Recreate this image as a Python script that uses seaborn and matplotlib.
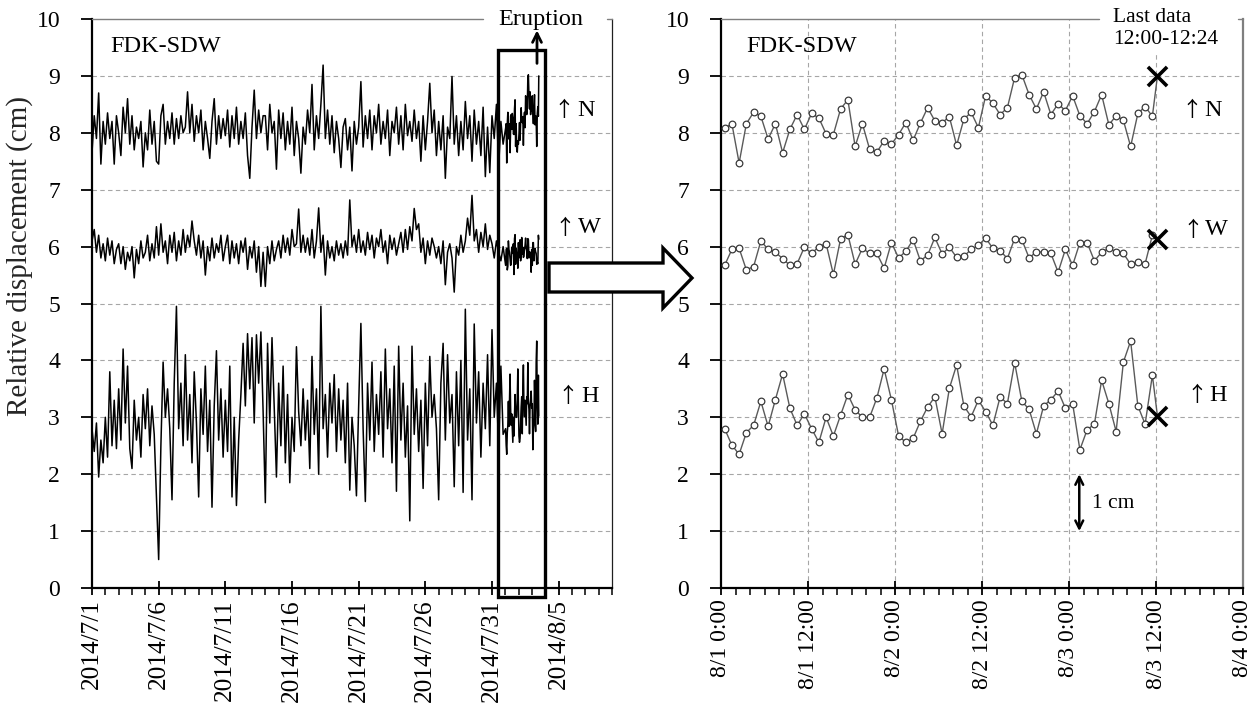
import numpy as np
import pandas as pd
import matplotlib
matplotlib.use("Agg")
import matplotlib.pyplot as plt
import matplotlib.dates as mdates
from matplotlib.ticker import FuncFormatter, FixedLocator
from matplotlib.patches import Polygon, Rectangle
import seaborn as sns

# ---------------- data (cm) ----------------
# left panel: 4-hourly values 2014/7/1 00:00 ... 2014/7/31 20:00 (6 per day)
N_daily4h = [
    7.65, 8.3, 7.9, 8.7, 7.45, 8.2,   7.8, 8.35, 7.9, 8.2, 7.45, 8.3,
    8.0, 7.6, 8.45, 8.0, 8.6, 7.8,    8.3, 7.7, 8.1, 7.9, 8.2, 7.4,
    8.0, 7.7, 8.4, 7.8, 8.2, 7.5,     7.45, 8.3, 8.5, 7.8, 8.2, 7.9,
    8.35, 7.8, 8.25, 7.9, 8.3, 8.0,   8.1, 8.72, 8.0, 8.5, 7.85, 8.3,
    8.0, 8.4, 7.7, 8.2, 7.9, 7.55,    8.2, 8.6, 7.8, 8.3, 7.9, 8.25,
    7.95, 8.4, 7.75, 8.3, 7.9, 8.45,  7.8, 8.2, 7.9, 8.35, 7.6, 7.2,
    8.1, 8.75, 7.9, 8.4, 8.0, 8.3,    8.3, 7.7, 8.5, 8.0, 8.2, 7.36,
    8.4, 7.9, 8.35, 7.7, 8.2, 7.8,    8.45, 7.6, 8.2, 7.9, 7.29, 8.1,
    7.8, 8.4, 8.0, 8.85, 7.7, 8.3,    7.9, 8.5, 9.19, 7.9, 8.4, 7.8,
    8.3, 7.65, 8.2, 7.9, 7.39, 8.1,   8.25, 7.7, 8.1, 7.33, 8.2, 7.8,
    8.1, 8.9, 7.75, 8.3, 7.9, 8.4,    7.7, 8.3, 8.0, 8.5, 7.8, 8.2,
    7.9, 8.4, 7.6, 8.2, 8.0, 8.45,    7.8, 8.3, 7.7, 8.5, 7.95, 8.2,
    7.85, 8.4, 7.9, 8.2, 7.5, 8.3,    7.7, 8.2, 8.87, 8.0, 8.4, 7.6,
    8.2, 7.7, 8.3, 7.2, 8.1, 7.9,     8.99, 7.8, 8.3, 7.6, 8.2, 7.7,
    8.55, 7.9, 8.3, 7.5, 8.4, 7.8,    8.2, 7.6, 8.45, 7.23, 8.1, 7.3,
    8.3, 7.9, 8.5, 7.4, 8.2, 7.8,
]
W_daily4h = [
    6.1, 6.3, 5.9, 6.2, 5.8, 6.05,    5.75, 6.15, 5.85, 6.1, 5.7, 5.95,
    6.05, 5.7, 6.0, 5.6, 5.9, 5.75,   6.0, 5.45, 5.95, 5.7, 6.1, 5.8,
    5.9, 6.2, 5.75, 6.05, 5.8, 6.35,  5.85, 6.4, 5.9, 6.1, 5.7, 6.2,
    5.9, 6.25, 5.75, 6.1, 5.85, 6.3,  5.9, 6.2, 6.0, 6.45, 6.1, 5.85,
    6.2, 5.8, 6.1, 5.5, 6.0, 5.75,    6.15, 5.8, 6.05, 5.9, 6.2, 5.75,
    6.0, 6.2, 5.7, 6.1, 5.8, 6.05,    5.7, 6.1, 5.9, 6.15, 5.6, 6.0,
    5.8, 6.1, 5.55, 6.0, 5.3, 5.9,    5.3, 6.0, 5.7, 6.1, 5.75, 5.95,
    6.1, 5.8, 6.2, 5.9, 6.15, 5.85,   6.3, 6.0, 6.05, 6.66, 5.9, 6.2,
    5.9, 6.15, 5.85, 6.3, 5.8, 6.1,   6.68, 5.9, 6.2, 5.5, 6.1, 5.8,
    6.0, 5.75, 6.1, 5.85, 6.05, 5.8,  6.1, 5.85, 6.82, 6.0, 6.2, 5.9,
    6.3, 5.9, 6.1, 5.85, 6.25, 5.95,  6.2, 5.8, 6.15, 6.0, 6.3, 5.9,
    6.1, 5.7, 6.2, 5.95, 6.15, 5.85,  6.05, 6.25, 5.9, 6.3, 5.95, 6.35,
    6.1, 6.67, 6.3, 6.4, 5.9, 6.15,   5.7, 6.1, 5.85, 6.15, 6.0, 5.8,
    6.0, 5.7, 6.1, 5.33, 5.9, 6.05,   5.8, 5.2, 6.0, 5.85, 6.2, 5.9,
    6.1, 6.5, 6.2, 6.9, 6.1, 6.3,     5.9, 6.25, 6.0, 6.4, 5.95, 6.2,
    6.05, 5.8, 6.1, 5.9, 5.75, 6.0,
]
H_daily4h = [
    2.8, 2.4, 2.9, 1.95, 2.6, 2.2,    3.0, 2.3, 3.8, 2.5, 3.3, 2.45,
    3.5, 2.6, 4.2, 2.9, 3.9, 2.45,    2.1, 3.3, 2.6, 3.0, 2.3, 3.4,
    2.8, 3.5, 2.5, 3.2, 2.7, 1.6,     0.5, 2.5, 3.97, 3.0, 3.5, 2.8,
    1.55, 3.6, 4.95, 2.8, 3.6, 2.5,   4.1, 2.6, 3.4, 2.2, 3.8, 2.9,
    1.6, 3.5, 2.7, 3.9, 2.4, 3.3,     1.42, 3.2, 4.17, 2.6, 3.5, 2.3,
    3.3, 2.4, 3.9, 1.6, 3.0, 1.45,    2.6, 3.4, 4.3, 3.2, 4.47, 3.5,
    4.4, 2.9, 4.45, 3.6, 4.5, 3.1,    1.5, 4.3, 2.9, 4.4, 3.2, 1.95,
    3.6, 2.5, 3.9, 2.2, 3.4, 1.85,    3.0, 2.4, 4.24, 3.1, 2.5, 3.5,
    2.6, 3.3, 2.1, 4.07, 2.7, 3.5,    2.0, 4.95, 2.8, 3.4, 2.3, 3.6,
    2.9, 3.75, 2.4, 3.5, 2.6, 3.3,    2.2, 3.6, 1.72, 3.0, 2.5, 1.62,
    3.2, 4.65, 2.8, 1.52, 3.6, 2.6,   3.97, 2.4, 3.4, 2.7, 3.8, 2.3,
    4.2, 2.8, 3.5, 2.2, 3.9, 1.7,     4.25, 2.6, 3.6, 2.3, 3.2, 1.18,
    4.25, 2.7, 3.5, 2.4, 3.3, 1.75,   3.6, 2.5, 4.07, 3.0, 3.4, 2.8,
    1.55, 3.6, 4.3, 2.6, 4.1, 2.9,    3.4, 1.78, 3.8, 2.5, 4.0, 1.68,
    4.9, 2.6, 3.5, 1.55, 4.64, 2.9,   3.8, 2.3, 3.6, 2.8, 4.1, 2.5,
    4.54, 3.0, 3.6, 2.4, 3.9, 2.7,
]

# hourly values 2014/8/1 00:30 ... 2014/8/3 11:30 (both panels)
N_hourly = [8.08, 8.16, 7.47, 8.16, 8.36, 8.29, 7.89, 8.16, 7.65, 8.06, 8.32, 8.06,
            8.34, 8.26, 7.98, 7.97, 8.42, 8.58, 7.76, 8.16, 7.71, 7.66, 7.86, 7.80,
            7.97, 8.18, 7.87, 8.17, 8.44, 8.21, 8.18, 8.28, 7.78, 8.24, 8.36, 8.09,
            8.65, 8.52, 8.32, 8.44, 8.97, 9.02, 8.67, 8.42, 8.72, 8.32, 8.51, 8.39,
            8.65, 8.30, 8.16, 8.37, 8.67, 8.14, 8.30, 8.22, 7.76, 8.34, 8.46, 8.29]
W_hourly = [5.67, 5.95, 5.97, 5.59, 5.65, 6.10, 5.95, 5.90, 5.79, 5.67, 5.70, 5.99,
            5.88, 6.00, 6.05, 5.51, 6.14, 6.21, 5.69, 5.97, 5.88, 5.88, 5.62, 6.07,
            5.80, 5.92, 6.12, 5.75, 5.85, 6.16, 5.87, 5.99, 5.81, 5.83, 5.95, 6.02,
            6.15, 5.97, 5.93, 5.79, 6.14, 6.12, 5.80, 5.91, 5.90, 5.88, 5.55, 5.95,
            5.67, 6.07, 6.07, 5.75, 5.90, 5.97, 5.91, 5.88, 5.69, 5.73, 5.70, 6.20]
H_hourly = [2.80, 2.51, 2.35, 2.73, 2.86, 3.28, 2.84, 3.31, 3.76, 3.16, 2.86, 3.06,
            2.80, 2.56, 3.00, 2.67, 3.04, 3.40, 3.13, 3.00, 3.00, 3.34, 3.85, 3.31,
            2.67, 2.56, 2.63, 2.93, 3.18, 3.36, 2.71, 3.51, 3.92, 3.20, 3.01, 3.30,
            3.10, 2.86, 3.36, 3.24, 3.96, 3.28, 3.14, 2.71, 3.20, 3.31, 3.46, 3.16,
            3.24, 2.43, 2.78, 2.88, 3.65, 3.24, 2.75, 3.97, 4.34, 3.20, 2.88, 3.74]

# last data 12:00-12:24 on 8/3
last_time = "2014-08-03 12:12"
N_last, W_last, H_last = 9.00, 6.13, 3.02

components = ["N", "W", "H"]
label_y_left = {"N": 8.40, "W": 6.33, "H": 3.37}
label_y_right = {"N": 8.40, "W": 6.30, "H": 3.39}

# ---------------- build tables ----------------
t_4h = pd.date_range("2014-07-01 00:00", periods=len(N_daily4h), freq="4h")
t_1h = pd.date_range("2014-08-01 00:30", periods=len(N_hourly), freq="h")
t_end = pd.DatetimeIndex([pd.Timestamp(last_time)])
series4h = {"N": N_daily4h, "W": W_daily4h, "H": H_daily4h}
series1h = {"N": N_hourly, "W": W_hourly, "H": H_hourly}
series_last = {"N": N_last, "W": W_last, "H": H_last}

rows_L, rows_R = [], []
for c in components:
    tl = t_4h.append(t_1h).append(t_end)
    vl = list(series4h[c]) + list(series1h[c]) + [series_last[c]]
    rows_L.append(pd.DataFrame({"time": tl, "value": vl, "comp": c}))
    tr = t_1h.append(t_end)
    vr = list(series1h[c]) + [series_last[c]]
    rows_R.append(pd.DataFrame({"time": tr, "value": vr, "comp": c}))
dfL = pd.concat(rows_L, ignore_index=True)
dfR = pd.concat(rows_R, ignore_index=True)
dfX = pd.DataFrame({"time": [pd.Timestamp(last_time)] * 3,
                    "value": [series_last[c] for c in components]})

# ---------------- style ----------------
sns.set_theme(style="ticks")
plt.rcParams["font.family"] = ["Liberation Serif", "DejaVu Serif"]
plt.rcParams["axes.unicode_minus"] = False

FW, FH = 1259, 707
fig = plt.figure(figsize=(FW / 100, FH / 100), dpi=100)


def fx(px):
    return px / FW


def fy(py):
    return 1 - py / FH


axL = fig.add_axes([fx(92), fy(588), fx(612) - fx(92), fy(19) - fy(588)])
axR = fig.add_axes([fx(721), fy(588), fx(1243) - fx(721), fy(19) - fy(588)])

TICK_FS = 17
TXT_FS = 17.5
GRID = dict(color="#a6a6a6", lw=0.8, ls=(0, (4, 3)), zorder=0.5)

# ---------------- left panel ----------------
sns.lineplot(data=dfL, x="time", y="value", hue="comp", units="comp",
             palette={c: "black" for c in components}, estimator=None,
             sort=False, legend=False, lw=1.1, ax=axL)

xl0, xl1 = pd.Timestamp("2014-07-01"), pd.Timestamp("2014-08-09")
axL.set_xlim(xl0, xl1)
axL.set_ylim(0, 10)
axL.xaxis.set_major_locator(FixedLocator(mdates.date2num(pd.date_range(xl0, xl1, freq="5D"))))
axL.xaxis.set_minor_locator(FixedLocator(mdates.date2num(pd.date_range(xl0, xl1, freq="D"))))


def fmt_left(v, pos):
    d = mdates.num2date(v)
    return f"{d.year}/{d.month}/{d.day}"


axL.xaxis.set_major_formatter(FuncFormatter(fmt_left))
axL.set_yticks(range(0, 11))
for yv in range(1, 10):
    axL.axhline(yv, **GRID)
axL.set_xlabel("")
axL.set_ylabel("Relative displacement (cm)", fontsize=21)
axL.yaxis.set_label_coords(-0.1135, 0.5835)

# ---------------- right panel ----------------
for c in components:
    sub = dfR[dfR["comp"] == c]
    sns.lineplot(data=sub, x="time", y="value", estimator=None, sort=False,
                 color="#5a5a5a", lw=1.0, marker="o", markersize=4.8,
                 markerfacecolor="white", markeredgecolor="#3a3a3a",
                 markeredgewidth=0.9, markevery=list(range(len(sub) - 1)),
                 legend=False, ax=axR, zorder=3)
sns.scatterplot(data=dfX, x="time", y="value", marker="x", s=190, color="black",
                linewidth=2.6, legend=False, ax=axR, zorder=6)

xr0, xr1 = pd.Timestamp("2014-08-01 00:00"), pd.Timestamp("2014-08-04 00:00")
axR.set_xlim(xr0, xr1)
axR.set_ylim(0, 10)
maj_r = mdates.date2num(pd.date_range(xr0, xr1, freq="12h"))
axR.xaxis.set_major_locator(FixedLocator(maj_r))
axR.xaxis.set_minor_locator(FixedLocator(mdates.date2num(pd.date_range(xr0, xr1, freq="2h"))))


def fmt_right(v, pos):
    d = mdates.num2date(v)
    return f"{d.month}/{d.day} {d.hour}:{d.minute:02d}"


axR.xaxis.set_major_formatter(FuncFormatter(fmt_right))
axR.set_yticks(range(0, 11))
for yv in range(1, 10):
    axR.axhline(yv, **GRID)
for xv in maj_r[1:-1]:
    axR.axvline(xv, **GRID)
axR.set_xlabel("")
axR.set_ylabel("")

# ---------------- common axis styling ----------------
for ax, xfs in ((axL, 18.3), (axR, TICK_FS)):
    ax.tick_params(axis="x", which="major", direction="inout", length=10, width=1.3,
                   labelsize=xfs, pad=3, labelrotation=90, color="black")
    ax.tick_params(axis="x", which="minor", direction="out", length=5, width=1.1,
                   color="black")
    ax.tick_params(axis="y", which="major", direction="out", length=8, width=1.3,
                   labelsize=TICK_FS, pad=15, color="black")
    for lab in ax.get_xticklabels() + ax.get_yticklabels():
        lab.set_color("black")
    ax.spines["left"].set_color("black")
    ax.spines["left"].set_linewidth(1.6)
    ax.spines["bottom"].set_color("black")
    ax.spines["bottom"].set_linewidth(1.6)
    ax.spines["top"].set_visible(False)
    ax.set_facecolor("white")

axL.spines["right"].set_color("#202020")
axL.spines["right"].set_linewidth(0.9)
axR.spines["right"].set_color("#7f7f7f")
axR.spines["right"].set_linewidth(1.6)

# broken top borders (gaps behind the captions)
for ax, segs in ((axL, [(0, 0.752), (0.990, 1.0)]), (axR, [(0, 0.724), (0.990, 1.0)])):
    for a, b in segs:
        ax.plot([a, b], [1, 1], color="#7f7f7f", lw=1.0, transform=ax.transAxes,
                clip_on=False, zorder=4)

# ---------------- annotations ----------------
for ax, xf in ((axL, 0.035), (axR, 0.049)):
    ax.text(xf, 0.9525, "FDK-SDW", transform=ax.transAxes, fontsize=TXT_FS,
            ha="left", va="center", color="black")

# direction labels: arrow glyph + component letter
arrow_font = ["Noto Sans CJK JP", "DejaVu Sans"]
left_pos = {"N": (564, 577), "W": (565, 578), "H": (568, 581)}
right_pos = {"N": (1192, 1204), "W": (1193, 1205), "H": (1197, 1209)}
for c in components:
    ax_pa, ax_pl = left_pos[c]
    trL = axL.get_yaxis_transform()
    axL.text((ax_pa - 92) / 520, label_y_left[c], "\u2191", transform=trL,
             fontsize=15, ha="center", va="center", color="black", family=arrow_font)
    axL.text((ax_pl - 92) / 520, label_y_left[c], c, transform=trL,
             fontsize=TXT_FS, ha="left", va="center", color="black")
    ar_pa, ar_pl = right_pos[c]
    trR = axR.get_yaxis_transform()
    axR.text((ar_pa - 721) / 522, label_y_right[c], "\u2191", transform=trR,
             fontsize=15, ha="center", va="center", color="black", family=arrow_font)
    axR.text((ar_pl - 721) / 522, label_y_right[c], c, transform=trR,
             fontsize=TXT_FS, ha="left", va="center", color="black")

# eruption marker and caption
t_erupt = mdates.date2num(pd.Timestamp("2014-08-03 09:00"))
axL.annotate("", xy=(t_erupt, 9.80), xytext=(t_erupt, 9.22),
             arrowprops=dict(arrowstyle="->", lw=2.0, color="black",
                             shrinkA=0, shrinkB=0, mutation_scale=16),
             annotation_clip=False, zorder=7)
axL.text(0.8625, 0.999, "Eruption", transform=axL.transAxes, fontsize=TXT_FS,
         ha="center", va="center", color="black", zorder=10)

# highlighted period box
bx0 = mdates.date2num(pd.Timestamp("2014-07-31 11:00"))
bx1 = mdates.date2num(pd.Timestamp("2014-08-03 23:30"))
axL.add_patch(Rectangle((bx0, -0.16), bx1 - bx0, 9.62, fill=False, ec="black",
                        lw=2.4, clip_on=False, zorder=8))

# last data caption
axR.text(0.751, 0.983, "Last data\n12:00-12:24", transform=axR.transAxes,
         fontsize=15.5, ha="left", va="center", linespacing=1.25, color="black",
         zorder=10, bbox=dict(fc="white", ec="none", pad=2))

# 1 cm scale
t_scale = mdates.date2num(pd.Timestamp("2014-08-03 01:25"))
axR.annotate("", xy=(t_scale, 2.0), xytext=(t_scale, 1.0),
             arrowprops=dict(arrowstyle="<->", lw=1.8, color="black",
                             shrinkA=0, shrinkB=0, mutation_scale=14))
axR.text(mdates.date2num(pd.Timestamp("2014-08-03 03:10")), 1.49, "1 cm",
         fontsize=15.5, ha="left", va="center", color="black")

# block arrow from the left box to the right panel (figure pixels)
arrow_px = [(549, 263), (663, 263), (663, 248), (692, 278), (663, 308), (663, 292), (549, 292)]
fig.add_artist(Polygon([(fx(x), fy(y)) for x, y in arrow_px], closed=True,
                       transform=fig.transFigure, fc="white", ec="black", lw=2.4,
                       joinstyle="miter", zorder=5))

fig.savefig("out.png", dpi=100, facecolor="white")
